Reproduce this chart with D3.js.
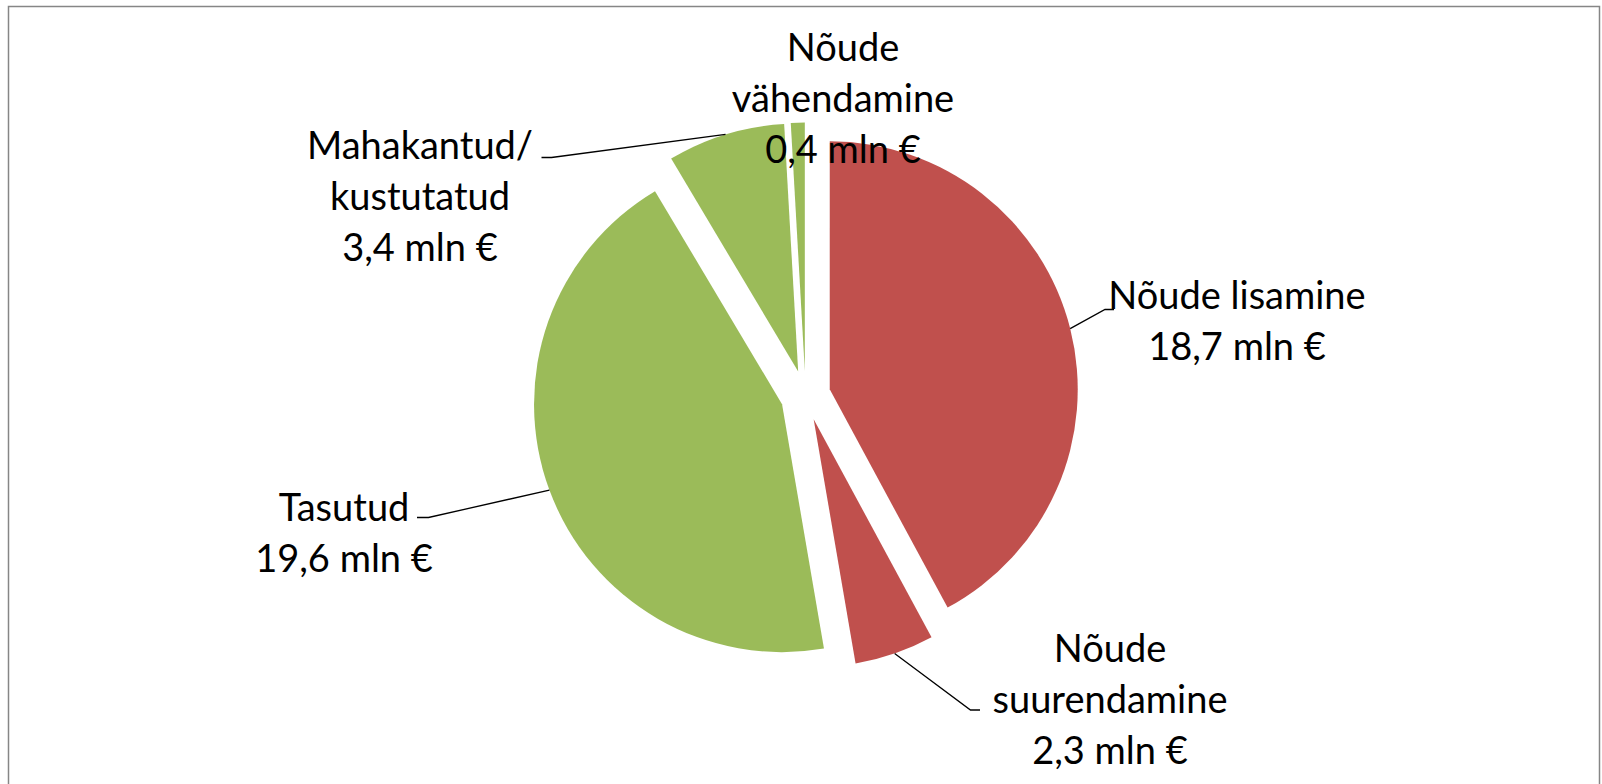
<!DOCTYPE html>
<html>
<head>
<meta charset="utf-8">
<script src="https://cdn.jsdelivr.net/npm/d3@7"></script>
<style>
  html, body { margin: 0; padding: 0; background: #fff; }
  svg { display: block; }
</style>
</head>
<body>
<div id="chart"></div>
<script>
const W = 1602, H = 784;

// data
const categories = ["Nõude lisamine", "Nõude suurendamine", "Tasutud", "Mahakantud/ kustutatud", "Nõude vähendamine"];
const labelLines = [["Nõude lisamine"], ["Nõude", "suurendamine"], ["Tasutud"], ["Mahakantud/", "kustutatud"], ["Nõude", "vähendamine"]];
const values = [18.7, 2.3, 19.6, 3.4, 0.4];
const colors = ["#C0504D", "#C0504D", "#9BBB59", "#9BBB59", "#9BBB59"];

// layout
const cx = 805.5, cy = 395.5, r = 248, explode = 25;
const lineH = 51;
// label center x, first baseline y, leader elbow (null = no leader)
const labelLayout = [
  {x: 1237, y: 309, elbow: [1105, 309.5], end: [1114, 309.5]},
  {x: 1110, y: 662, elbow: [970.5, 710], end: [980, 710]},
  {x: 344, y: 521, elbow: [428.5, 517.5], end: [417, 517.5]},
  {x: 420, y: 159, elbow: [551.5, 157.5], end: [541.5, 157.5]},
  {x: 843, y: 61, elbow: null}
];

const loc = d3.formatLocale({decimal: ",", thousands: " ", grouping: [3], currency: ["", " €"]});
const fmt = loc.format(".1f");

const svg = d3.select("#chart").append("svg")
    .attr("width", W)
    .attr("height", H);

svg.append("rect")
    .attr("x", 8.5)
    .attr("y", 6.5)
    .attr("width", 1591)
    .attr("height", 800)
    .attr("fill", "white")
    .attr("stroke", "#868686")
    .attr("stroke-width", 1.5);

const pie = d3.pie().sort(null).value(d => d)(values);
const arc = d3.arc().innerRadius(0).outerRadius(r);
const mid = d3.arc().innerRadius(r).outerRadius(r);

const g = svg.append("g").attr("transform", `translate(${cx},${cy})`);

pie.forEach((p, i) => {
    let a = (p.startAngle + p.endAngle) / 2;
    let dx = Math.sin(a) * explode, dy = -Math.cos(a) * explode;
    let sg = g.append("g").attr("transform", `translate(${dx},${dy})`);
    sg.append("path")
      .attr("d", arc(p))
      .attr("fill", colors[i]);

    let L = labelLayout[i];
    if (L.elbow) {
        let m = mid.centroid(p);
        let pts = [[m[0] + dx + cx, m[1] + dy + cy], L.elbow, L.end];
        svg.append("path")
           .attr("d", d3.line()(pts))
           .attr("fill", "none")
           .attr("stroke", "black")
           .attr("stroke-width", 1.3);
    }
});

// labels drawn on top
pie.forEach((p, i) => {
    let L = labelLayout[i];
    let lines = labelLines[i].concat([fmt(values[i]) + " mln €"]);
    let t = svg.append("text")
        .attr("text-anchor", "middle")
        .attr("font-family", "Lato, 'Open Sans', sans-serif")
        .attr("font-size", 38)
        .attr("fill", "black");
    lines.forEach((s, k) => {
        t.append("tspan")
         .attr("x", L.x)
         .attr("y", L.y + k * lineH)
         .text(s);
    });
});
</script>
</body>
</html>
